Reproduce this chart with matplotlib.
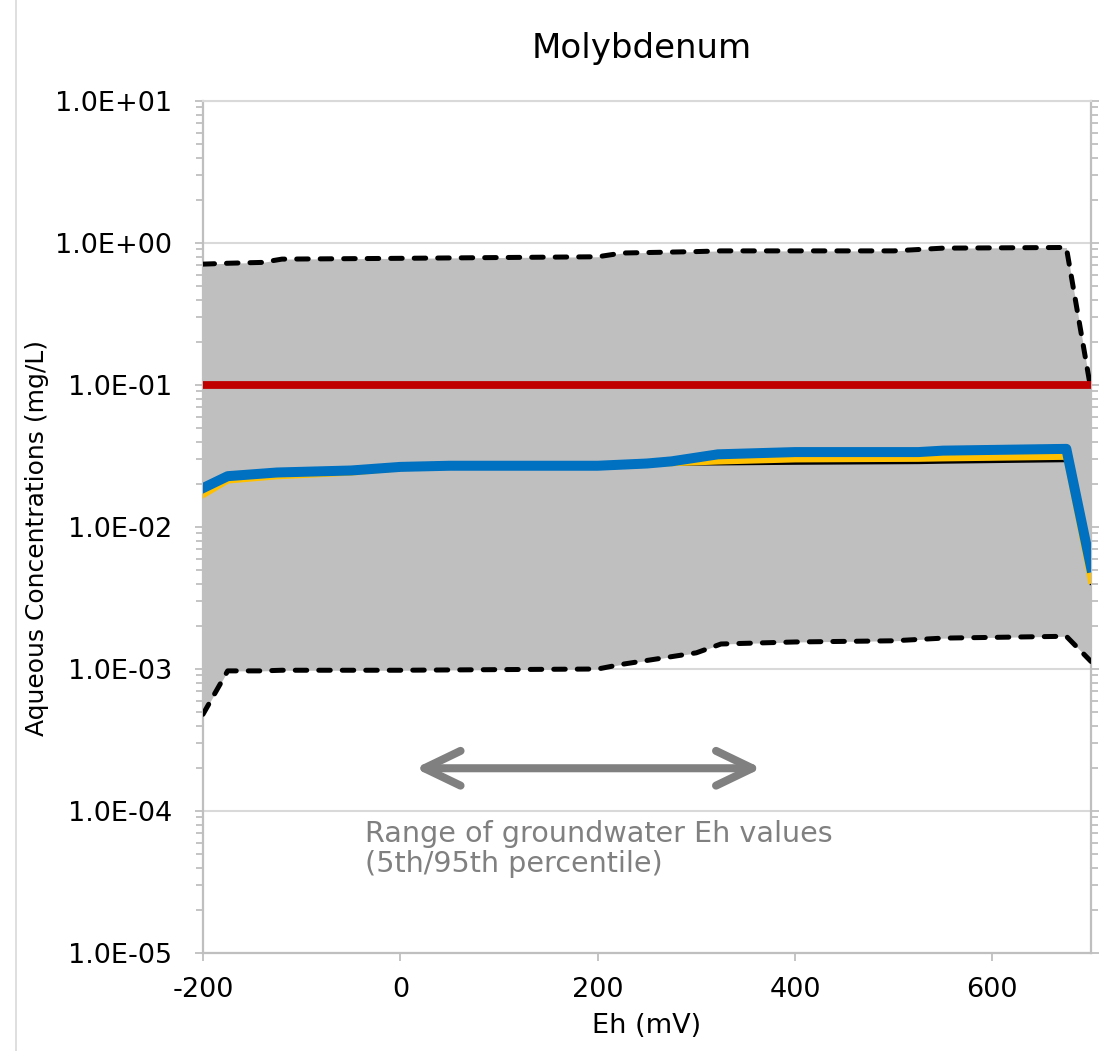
import matplotlib
matplotlib.use("Agg")
import matplotlib.pyplot as plt
from matplotlib.ticker import FixedLocator, LogLocator, FuncFormatter, NullFormatter
from matplotlib.patches import FancyArrowPatch
from matplotlib.lines import Line2D

# --- data -----------------------------------------------------------------
# Envelope of simulated concentrations (5th / 95th percentile bounds)
env_eh = [-200, -175, -140, -120, 0, 200, 225, 300, 325, 400, 500, 550, 675, 700]
env_upper = [0.71, 0.72, 0.73, 0.77, 0.78, 0.80, 0.85, 0.87, 0.88, 0.88, 0.88,
             0.92, 0.93, 0.092]
env_lower = [0.00048, 0.00097, 0.00097, 0.00098, 0.00098, 0.00100, 0.00108,
             0.00130, 0.00150, 0.00155, 0.00158, 0.00165, 0.00170, 0.00113]

# Model curves
model_eh = [-200, -175, -125, -50, 0, 50, 200, 250, 275, 322, 400, 525, 550, 675, 700]
blue_conc = [0.0188, 0.0228, 0.0242, 0.0250, 0.0265, 0.0270, 0.0270, 0.0280,
             0.0290, 0.0325, 0.0337, 0.0337, 0.0345, 0.0355, 0.0052]
yellow_conc = [0.0168, 0.0213, 0.0228, 0.0242, 0.0260, 0.0268, 0.0272, 0.0278,
               0.0282, 0.0290, 0.0300, 0.0303, 0.0305, 0.0313, 0.0042]
black_conc = [0.0166, 0.0211, 0.0226, 0.0240, 0.0258, 0.0266, 0.0270, 0.0276,
              0.0277, 0.0278, 0.0281, 0.0284, 0.0286, 0.0293, 0.0040]

# Regulatory standard
standard_eh = [-200, 700]
standard_conc = [0.1, 0.1]

# Groundwater Eh range (5th/95th percentile)
gw_eh_range = [15, 366]
gw_arrow_level = 2.0e-4

x_ticks = [-200, 0, 200, 400, 600]
y_ticks = [1e-5, 1e-4, 1e-3, 1e-2, 1e-1, 1e0, 1e1]

# --- figure ---------------------------------------------------------------
W, H = 1111, 1051
DPI = 100
fig = plt.figure(figsize=(W / DPI, H / DPI), dpi=DPI)
plt.rcParams['font.family'] = ['DejaVu Sans']

ax_l, ax_r, ax_t, ax_b = 203, 1091, 101, 953
ax = fig.add_axes([ax_l / W, 1 - ax_b / H, (ax_r - ax_l) / W, (ax_b - ax_t) / H])

ax.set_yscale('log')
ax.set_xlim(-200, 700)
ax.set_ylim(1e-5, 1e1)

grid_c = '#d9d9d9'
axis_c = '#bfbfbf'

# Envelope fill and bounds
ax.fill_between(env_eh, env_lower, env_upper, color='#bfbfbf', lw=0, zorder=1)
dash_kw = dict(color='black', lw=3.6, dashes=(2.3, 2.4), dash_capstyle='round', zorder=3)
ax.plot(env_eh, env_upper, **dash_kw)
ax.plot(env_eh, env_lower, **dash_kw)

# Standard
ax.plot(standard_eh, standard_conc, color='#c00000', lw=5.6, solid_capstyle='butt', zorder=4)

# Model curves
ax.plot(model_eh, black_conc, color='black', lw=2.2, zorder=5)
ax.plot(model_eh, yellow_conc, color='#ffc000', lw=4.6, zorder=6)
ax.plot(model_eh, blue_conc, color='#0070c0', lw=7.2, zorder=7)

# Groundwater Eh range arrow and note
arrow = FancyArrowPatch((gw_eh_range[0], gw_arrow_level), (gw_eh_range[1], gw_arrow_level),
                        arrowstyle='<->,head_length=2.6,head_width=1.25', mutation_scale=10,
                        color='#808080', lw=5.8, capstyle='round', joinstyle='round',
                        shrinkA=0, shrinkB=0, zorder=8)
ax.add_patch(arrow)
ax.text(-36, 10 ** -4.216, 'Range of groundwater Eh values', color='#808080',
        fontsize=20.6, ha='left', va='baseline', zorder=8)
ax.text(-36, 10 ** -4.427, '(5th/95th percentile)', color='#808080',
        fontsize=20.6, ha='left', va='baseline', zorder=8)

# Gridlines and axes styling
ax.yaxis.set_major_locator(FixedLocator(y_ticks))
ax.yaxis.set_minor_locator(LogLocator(base=10, subs=range(2, 10)))
ax.yaxis.set_major_formatter(FuncFormatter(lambda v, p: f"{v:.1E}"))
ax.yaxis.set_minor_formatter(NullFormatter())
ax.set_xticks(x_ticks)
ax.set_xticklabels([str(v) for v in x_ticks])
ax.grid(axis='y', which='major', color=grid_c, lw=1.5, zorder=0)
ax.set_axisbelow(True)

for side in ('left', 'bottom', 'right'):
    ax.spines[side].set_color(axis_c)
    ax.spines[side].set_linewidth(1.6)
ax.spines['top'].set_color(grid_c)
ax.spines['top'].set_linewidth(1.5)

ax.tick_params(axis='y', which='both', direction='out', left=True, right=True,
               color=axis_c, width=1.3)
ax.tick_params(axis='y', which='major', length=6, pad=16, labelsize=19.5, labelcolor='black')
ax.tick_params(axis='y', which='minor', length=5)
ax.tick_params(axis='x', which='major', direction='out', length=6, width=1.3,
               color=axis_c, pad=11, labelsize=19.5, labelcolor='black')

ax.set_xlabel('Eh (mV)', fontsize=19.5, va='center')
ax.xaxis.set_label_coords(0.5, -(1026 - ax_b) / (ax_b - ax_t))
ax.set_ylabel('Aqueous Concentrations (mg/L)', fontsize=18, va='center')
ax.yaxis.set_label_coords((37 - ax_l) / (ax_r - ax_l), (ax_b - 538) / (ax_b - ax_t))

fig.text(642 / W, 1 - 58 / H, 'Molybdenum', fontsize=24.5, ha='center', va='baseline')

# Chart frame edge on the left
fig.add_artist(Line2D([15.5 / W, 15.5 / W], [0, 1], transform=fig.transFigure,
                      color=grid_c, lw=1.2))

fig.savefig('out.png', dpi=DPI)
